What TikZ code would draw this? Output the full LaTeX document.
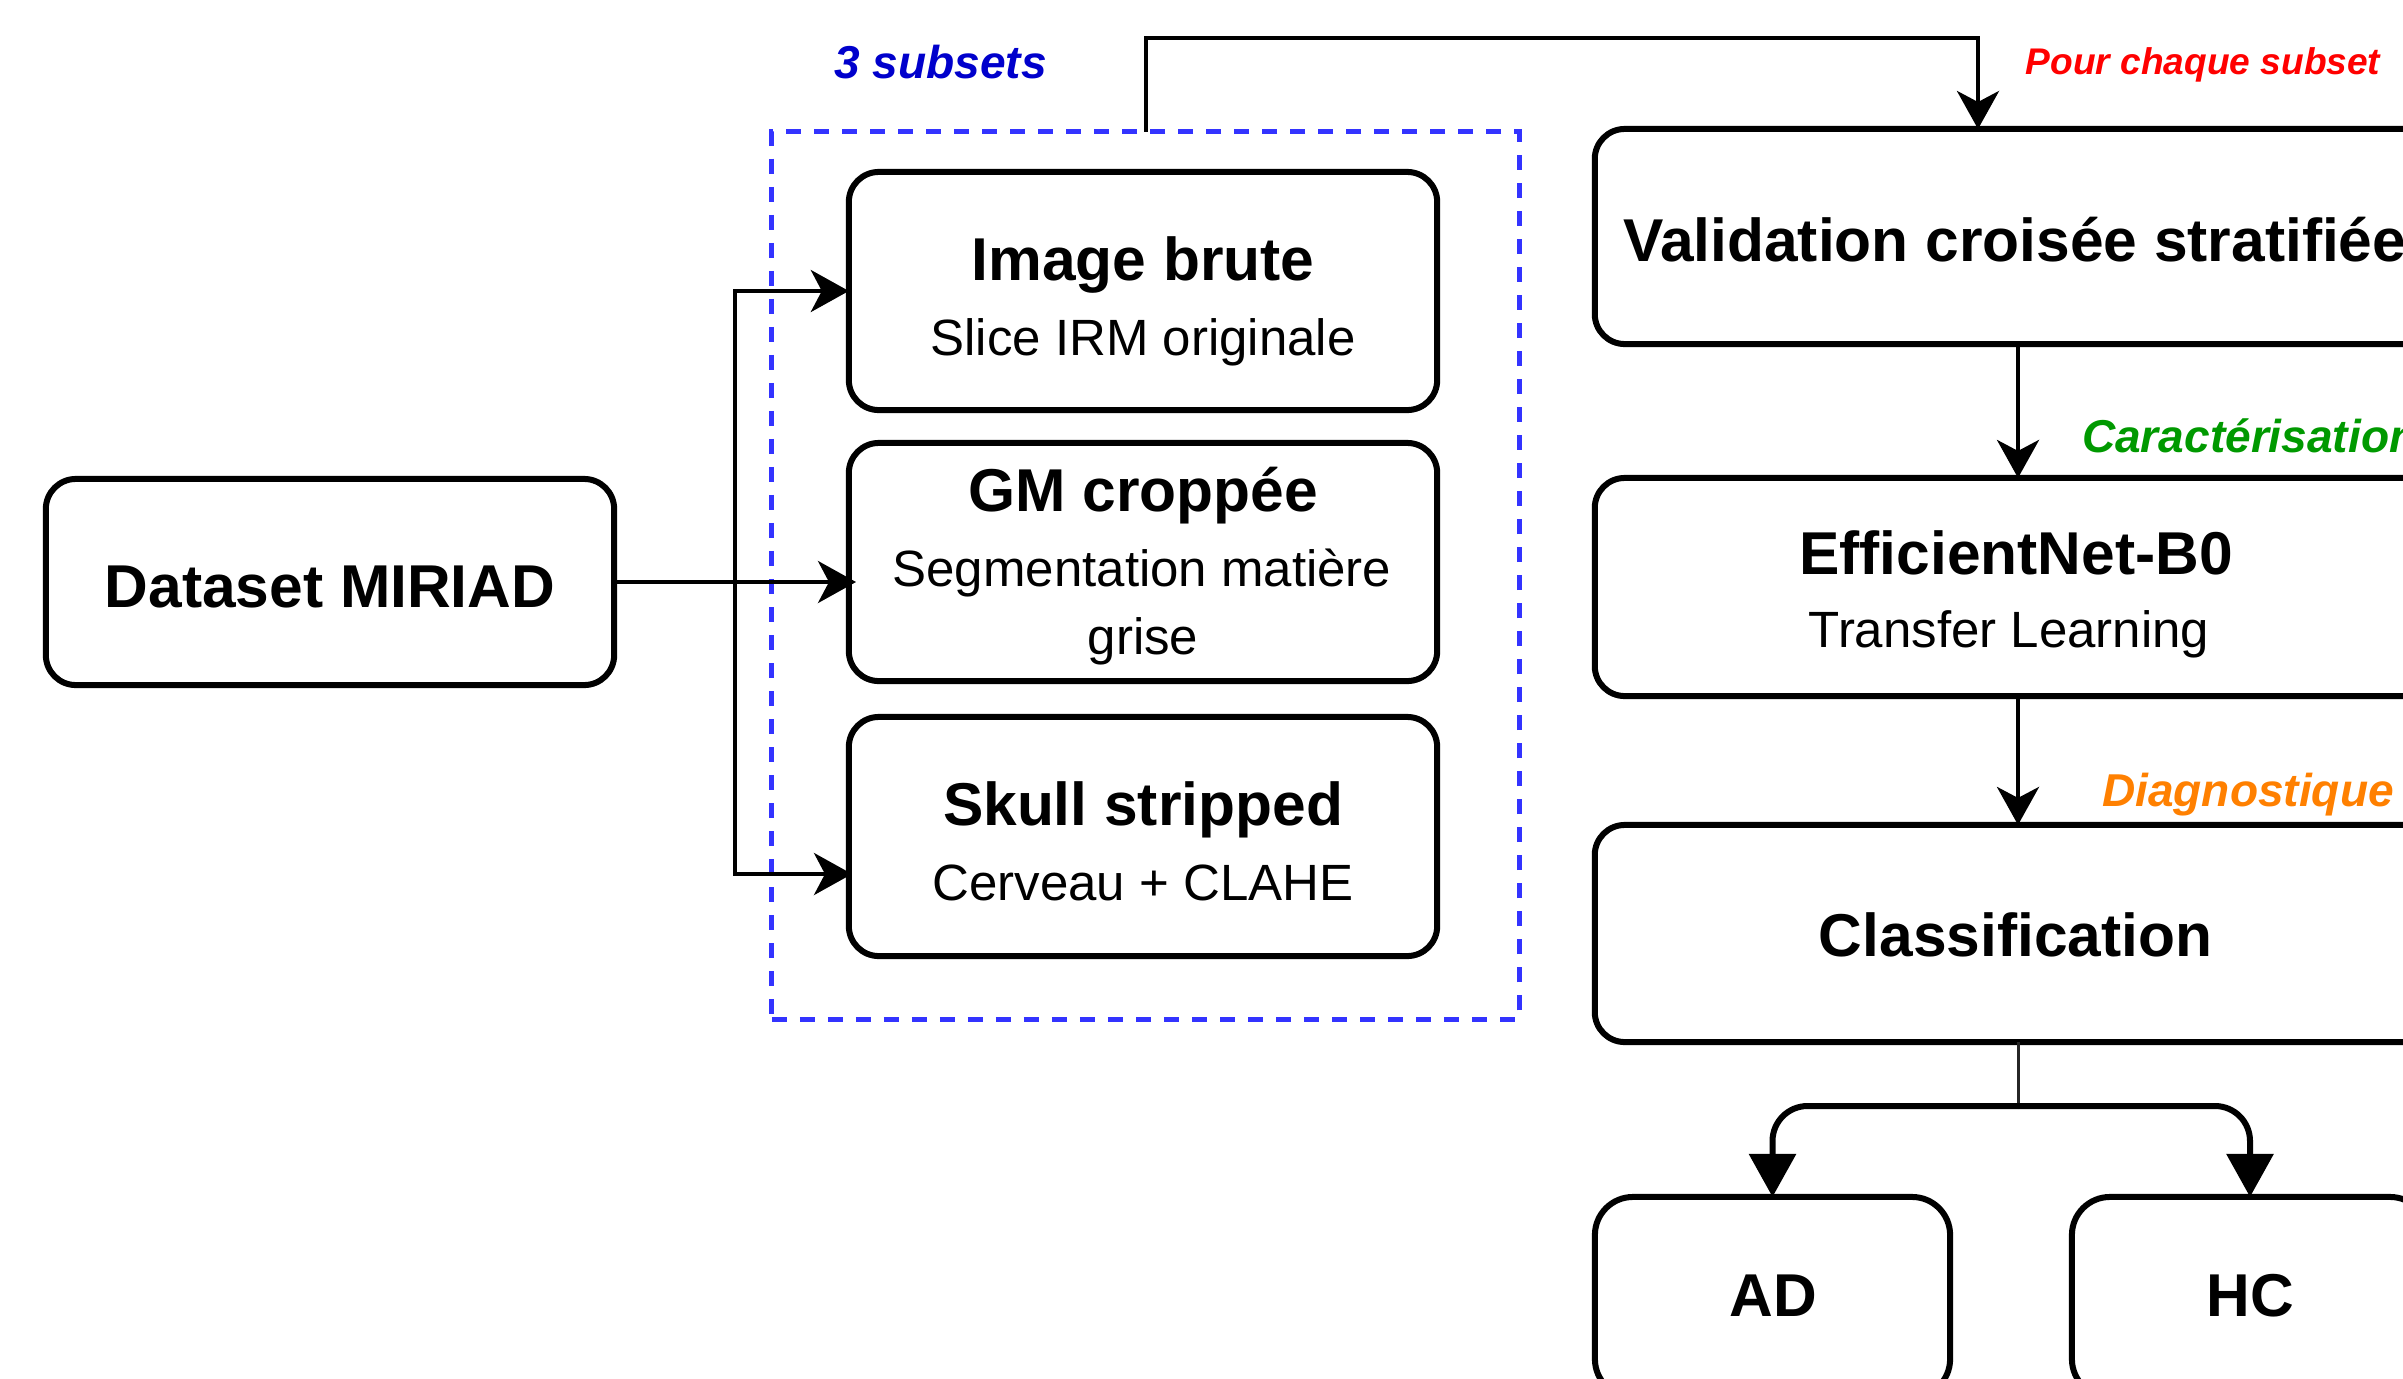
\documentclass[tikz,border=0pt]{standalone}
\usepackage{fontspec}
\setmainfont{Liberation Sans}
\usetikzlibrary{arrows.meta,calc}
\definecolor{lblue}{HTML}{0000CC}
\definecolor{dashblue}{HTML}{3333FF}
\definecolor{lred}{HTML}{FF0000}
\definecolor{lgreen}{HTML}{009900}
\definecolor{lorange}{HTML}{FF8000}
\newcommand\TitleFont{\fontsize{17.2pt}{20pt}\selectfont\bfseries}
\newcommand\SubFont{\fontsize{14.5pt}{17pt}\selectfont}
\newcommand\LabFont{\fontsize{13.1pt}{15pt}\selectfont\bfseries\itshape}
\newcommand\SmallLabFont{\fontsize{10.55pt}{12pt}\selectfont\bfseries\itshape}
\begin{document}
\begin{tikzpicture}[x=0.01cm,y=-0.01cm,
  box/.style={draw=black, line width=1.71pt, rounded corners=0.30cm, rectangle,
    inner sep=0pt, outer sep=0pt, fill=white},
  smallbox/.style={box, rounded corners=0.38cm},
  txt/.style={anchor=base, inner sep=0pt, outer sep=0pt},
  conn/.style={line width=1.14pt, -{Stealth[length=0.38cm,width=0.42cm,inset=0.11cm]}},
  branch/.style={line width=1.71pt, rounded corners=0.35cm, -{Triangle[length=0.43cm,width=0.46cm]}},
  stub/.style={line width=0.85pt, draw=black!85},
  grp/.style={draw=dashblue, line width=1.33pt, dash pattern=on 0.15cm off 0.13cm, rectangle,
    inner sep=0pt, outer sep=0pt}
]
\useasboundingbox (0,0) rectangle (2403,1378);
\fill[white] (0,0) rectangle (2403,1378);

% group
\node[grp, minimum width=7.47cm, minimum height=8.87cm] (subsets) at (1145.5,575.5) {};
\node[txt, text=lblue] (lsub) at (940.5,78) {\LabFont 3 subsets};

% left boxes
\node[box, minimum width=5.68cm, minimum height=2.06cm] (dataset) at (330,582) {};
\node[txt] (tdataset) at (330,607) {\TitleFont Dataset MIRIAD};

\node[box, minimum width=5.88cm, minimum height=2.38cm] (img) at (1143,291) {};
\node[txt] (timg) at (1143,280) {\TitleFont Image brute};
\node[txt] (simg) at (1143,355) {\SubFont Slice IRM originale};

\node[box, minimum width=5.88cm, minimum height=2.38cm] (gm) at (1143,562) {};
\node[txt] (tgm) at (1143,511) {\TitleFont GM croppée};
\node[txt] (sgm) at (1142,586) {\SubFont Segmentation matière};
\node[txt] (sgm2) at (1143,654) {\SubFont grise};

\node[box, minimum width=5.88cm, minimum height=2.39cm] (skull) at (1143,836.5) {};
\node[txt] (tskull) at (1143,825.5) {\TitleFont Skull stripped};
\node[txt] (sskull) at (1143,900) {\SubFont Cerveau + CLAHE};

% right column
\node[box, minimum width=8.46cm, minimum height=2.15cm] (valid) at (2018,236.5) {};
\node[txt, anchor=base west] (tvalid) at (1623,261) {\TitleFont Validation croisée stratifiée};

\node[box, minimum width=8.46cm, minimum height=2.18cm] (eff) at (2018,587) {};
\node[txt] (teff) at (2016,574) {\TitleFont EfficientNet-B0};
\node[txt] (seff) at (2009,647) {\SubFont Transfer Learning};

\node[box, minimum width=8.46cm, minimum height=2.17cm] (classif) at (2018,933.5) {};
\node[txt] (tclassif) at (2015.5,956) {\TitleFont Classification};

\node[smallbox, minimum width=3.55cm, minimum height=2.0cm] (ad) at (1772.5,1297) {};
\node[txt] (tad) at (1773,1316) {\TitleFont AD};
\node[smallbox, minimum width=3.56cm, minimum height=2.0cm] (hc) at (2250,1297) {};
\node[txt] (thc) at (2250,1316) {\TitleFont HC};

% labels
\node[txt, text=lred] (lpour) at (2203,74) {\SmallLabFont Pour chaque subset};
\node[txt, anchor=base west, text=lgreen] (lcar) at (2082,452) {\LabFont Caractérisation};
\node[txt, anchor=base west, text=lorange] (ldiag) at (2102,806) {\LabFont Diagnostique};

% connectors left
\coordinate (bx) at (735,582);
\coordinate (skullin) at (852,874);
\coordinate (gmin) at (856,582);
\draw[conn] (dataset.east) -- (bx) |- (img.west);
\draw[conn] (dataset.east) -- (gmin);
\draw[conn] (bx) |- (skullin);

% top loop
\coordinate (vin) at (1978,129);
\draw[conn] (subsets.north) -- ++(0,-94) -| (vin);

% right column connectors
\draw[conn] (valid.south) -- (eff.north);
\draw[conn] (eff.south) -- (classif.north);

\coordinate (split) at (2018,1106);
\draw[stub] (classif.south) -- (split);
\draw[branch] (split) -| (ad.north);
\draw[branch] (split) -| (hc.north);
\end{tikzpicture}
\end{document}
